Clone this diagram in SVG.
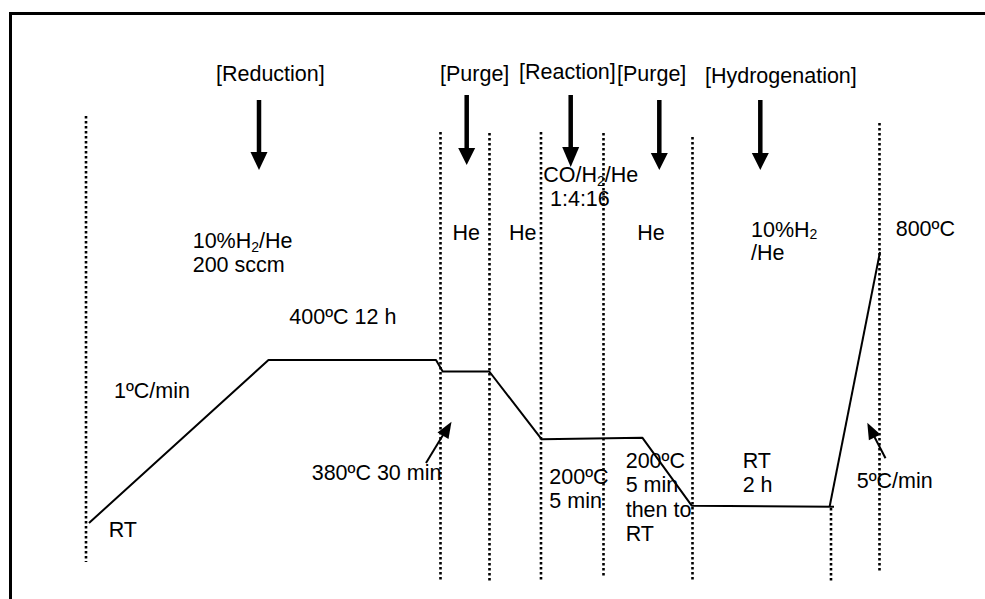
<svg xmlns="http://www.w3.org/2000/svg" width="985" height="599" viewBox="0 0 985 599">
<defs>
<style>
text{font-family:"Liberation Sans",Arial,sans-serif;font-size:21.5px;fill:#000}
.sub{font-size:14px}
.dot{stroke:#000;stroke-width:2.6;stroke-dasharray:2.5 2.5;fill:none}
.curve{stroke:#000;stroke-width:2;fill:none;stroke-linejoin:round}
.shaft{stroke:#000;stroke-width:4.5}
.thin{stroke:#000;stroke-width:2}
</style>
</defs>
<rect width="985" height="599" fill="#fff"/>
<path d="M10.5,605 V13.5 H995" fill="none" stroke="#000" stroke-width="3"/>

<g id="dividers">
<line class="dot" x1="86" y1="116" x2="86" y2="562"/>
<line class="dot" x1="440.5" y1="132" x2="440.5" y2="582"/>
<line class="dot" x1="489.5" y1="133" x2="489.5" y2="582"/>
<line class="dot" x1="541" y1="132" x2="541" y2="582"/>
<line class="dot" x1="603.5" y1="133" x2="603.5" y2="578"/>
<line class="dot" x1="692.5" y1="137" x2="692.5" y2="582"/>
<line class="dot" x1="831" y1="508" x2="831" y2="582"/>
<line class="dot" x1="879.5" y1="123" x2="879.5" y2="573"/>
</g>

<g id="stage-labels">
<text x="216" y="81">[Reduction]</text>
<text x="440" y="81">[Purge]</text>
<text x="519" y="79">[Reaction]</text>
<text x="617" y="81">[Purge]</text>
<text x="705" y="83">[Hydrogenation]</text>
</g>

<g id="stage-arrows">
<line class="shaft" x1="259" y1="100" x2="259" y2="154"/>
<polygon points="250.5,152 267.5,152 259,170"/>
<line class="shaft" x1="466.7" y1="95" x2="466.7" y2="150"/>
<polygon points="458.2,148 475.2,148 466.7,165"/>
<line class="shaft" x1="570.7" y1="95" x2="570.7" y2="149"/>
<polygon points="562.2,147 579.2,147 570.7,167"/>
<line class="shaft" x1="659.3" y1="100" x2="659.3" y2="155"/>
<polygon points="650.8,153 667.8,153 659.3,170"/>
<line class="shaft" x1="760.3" y1="100" x2="760.3" y2="155"/>
<polygon points="751.8,153 768.8,153 760.3,170"/>
</g>

<g id="gas-labels">
<text x="192.7" y="248">10%H<tspan class="sub" dy="4">2</tspan><tspan dy="-4">/He</tspan></text>
<text x="192.7" y="272">200 sccm</text>
<text x="452.5" y="240">He</text>
<text x="509" y="240">He</text>
<text x="543.3" y="182">CO/H<tspan class="sub" dy="4">2</tspan><tspan dy="-4">/He</tspan></text>
<text x="550" y="206">1:4:16</text>
<text x="637.3" y="239.5">He</text>
<text x="751" y="237">10%H<tspan class="sub" dy="2">2</tspan></text>
<text x="751" y="259.5">/He</text>
</g>

<g id="temperature-profile">
<polyline class="curve" points="89,523 268.5,360 436,360 442.7,371.5 489.3,371.5 541.7,439.3 642.3,437.7 691.7,505.7 834,506.7"/>
<line class="curve" x1="829.7" y1="506.3" x2="880" y2="252"/>
</g>

<g id="callouts">
<line class="thin" x1="426" y1="463" x2="443" y2="435"/>
<polygon points="451.5,421.7 448.5,439 437.5,432.5"/>
<line class="thin" x1="885.5" y1="458.3" x2="874.5" y2="437"/>
<polygon points="867.3,422.7 880.5,434.5 868.9,440.2"/>
</g>

<g id="temp-labels">
<text x="289.3" y="324">400ºC 12 h</text>
<text x="114" y="398">1ºC/min</text>
<text x="108.7" y="537">RT</text>
<text x="311.7" y="479.5">380ºC 30 min</text>
<text x="549.3" y="484">200ºC</text>
<text x="549.3" y="508">5 min</text>
<text x="625.7" y="468.3">200ºC</text>
<text x="625.7" y="492.3">5 min</text>
<text x="625.7" y="516.7">then to</text>
<text x="625.7" y="540.7">RT</text>
<text x="742.7" y="468.3">RT</text>
<text x="742.7" y="491.7">2 h</text>
<text x="856.7" y="488.3">5ºC/min</text>
<text x="895.7" y="236">800ºC</text>
</g>
</svg>
